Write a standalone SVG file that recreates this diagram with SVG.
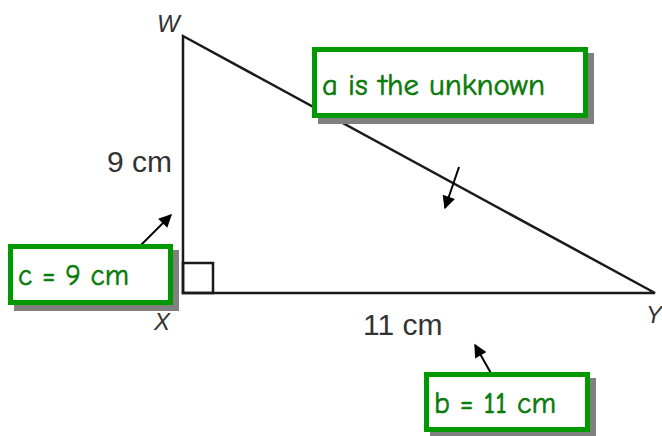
<svg xmlns="http://www.w3.org/2000/svg" width="662" height="436" viewBox="0 0 662 436">
<style>
.tri{fill:none;stroke:#1a1a1a;stroke-width:2.5}
.lbl{font-family:"Liberation Sans",Arial,sans-serif;font-size:30px;fill:#333}
.vtx{font-family:"Liberation Sans",Arial,sans-serif;font-size:24px;fill:#333;font-style:italic}
.box{fill:#fff;stroke:#009900;stroke-width:5}
.shadow{fill:#808080}
.gtxt{font-family:"Comic Neue","DejaVu Sans",sans-serif;font-size:30px;fill:#0a7a0a;stroke:#0a7a0a;stroke-width:0.6}
.arrow{stroke:#000;stroke-width:2;fill:none;marker-end:url(#ah)}
</style>
<defs>
<marker id="ah" viewBox="0 0 10 10" refX="9" refY="5" markerWidth="15" markerHeight="13" markerUnits="userSpaceOnUse" orient="auto">
<path d="M0,0 L10,5 L0,10 z" fill="#000"/>
</marker>
</defs>
<rect width="662" height="436" fill="#fff"/>
<g id="triangle">
<polygon class="tri" points="183,36 183,293 655,293"/>
<rect class="tri" x="183" y="263" width="30" height="30" stroke-width="2"/>
<text class="vtx" x="157" y="32">W</text>
<text class="vtx" x="154" y="330">X</text>
<text class="vtx" x="646" y="323">Y</text>
<text class="lbl" x="107" y="172">9 cm</text>
<text class="lbl" x="363" y="335">11 cm</text>
</g>
<g id="connectors">
<line class="arrow" x1="139" y1="247" x2="171" y2="215"/>
<line class="arrow" x1="492" y1="375" x2="475" y2="345"/>
<line class="arrow" x1="459" y1="167" x2="445" y2="208"/>
</g>
<g id="box-a">
<rect class="shadow" x="318" y="53" width="276" height="71"/>
<rect class="box" x="314.5" y="49.5" width="271" height="66"/>
<text class="gtxt" x="322" y="95" textLength="223" lengthAdjust="spacingAndGlyphs">a is the unknown</text>
</g>
<g id="box-c">
<rect class="shadow" x="14" y="250" width="165" height="61"/>
<rect class="box" x="10.5" y="246.5" width="160" height="56"/>
<text class="gtxt" x="18" y="285" textLength="111" lengthAdjust="spacingAndGlyphs">c = 9 cm</text>
</g>
<g id="box-b">
<rect class="shadow" x="430" y="378" width="166" height="60"/>
<rect class="box" x="426.5" y="374.5" width="161" height="55"/>
<text class="gtxt" x="434" y="413" textLength="122" lengthAdjust="spacingAndGlyphs">b = 11 cm</text>
</g>
</svg>
